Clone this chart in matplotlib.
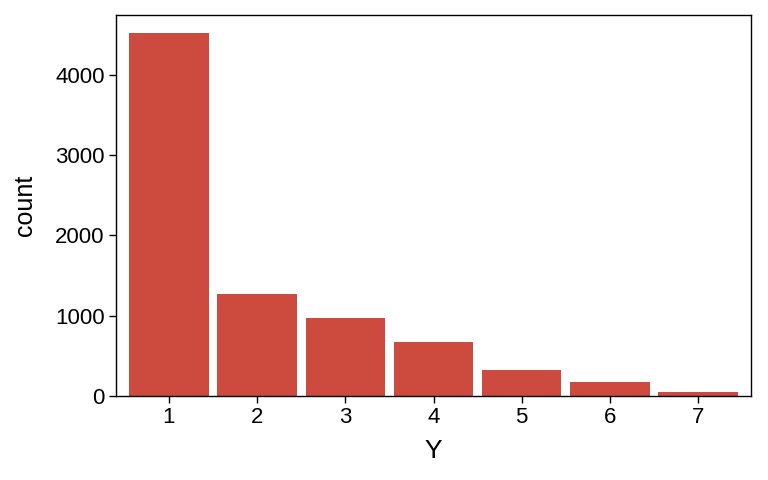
import matplotlib
matplotlib.use("Agg")
import matplotlib.pyplot as plt

plt.rcParams['font.family'] = ['Liberation Sans', 'DejaVu Sans']

categories = [1, 2, 3, 4, 5, 6, 7]
counts = [4523, 1271, 972, 673, 324, 174, 50]

fig = plt.figure(figsize=(7.68, 4.8), dpi=100)
ax = fig.add_axes([0.151, 0.175, 0.827, 0.794])
ax.bar(categories, counts, width=0.9, color='#CD4A3E')
ax.set_xlim(0.4, 7.6)
ax.set_ylim(0, max(counts) * 1.05)
ax.set_xticks(categories)
ax.set_yticks([0, 1000, 2000, 3000, 4000])
ax.tick_params(labelsize=16, length=5, width=1, pad=3, color='black', labelcolor='black')
ax.set_xlabel('Y', fontsize=19, labelpad=8)
ax.set_ylabel('count', fontsize=18, labelpad=13)
for s in ax.spines.values():
    s.set_linewidth(1)
    s.set_color('black')
fig.savefig('out.png', dpi=100)
